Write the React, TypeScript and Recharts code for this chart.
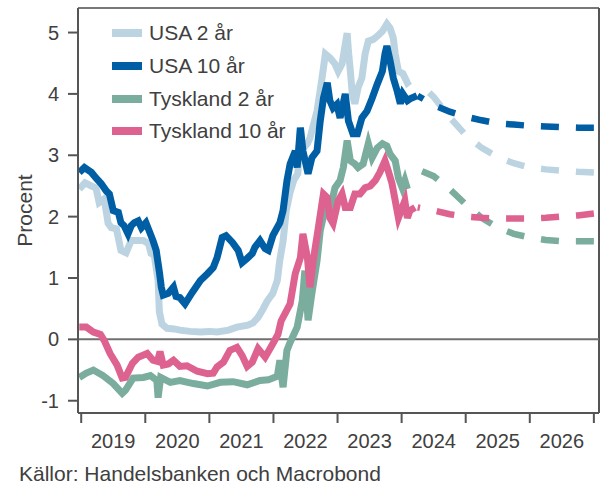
import React from 'react';
import { LineChart, Line, XAxis, YAxis, ReferenceLine } from 'recharts';

type Punkt = [number, number];

// Historik: [år som decimaltal, procent]
const usa2Hist: Punkt[] = [
  [2018.97, 2.45], [2019.06, 2.55], [2019.16, 2.5], [2019.23, 2.47], [2019.28, 2.23],
  [2019.36, 2.29], [2019.42, 1.89], [2019.47, 1.82], [2019.55, 1.8], [2019.62, 1.45],
  [2019.7, 1.41], [2019.78, 1.61], [2019.86, 1.61], [2019.97, 1.61], [2020.05, 1.56],
  [2020.09, 1.4], [2020.14, 1.37], [2020.2, 0.96], [2020.22, 0.45], [2020.26, 0.25],
  [2020.34, 0.18], [2020.45, 0.17], [2020.54, 0.15], [2020.7, 0.13], [2020.86, 0.12],
  [2021.0, 0.13], [2021.12, 0.12], [2021.3, 0.15], [2021.43, 0.2], [2021.6, 0.23],
  [2021.68, 0.27], [2021.76, 0.36], [2021.84, 0.5], [2021.9, 0.62], [2021.99, 0.75],
  [2022.06, 0.96], [2022.1, 1.3], [2022.15, 1.6], [2022.2, 2.1], [2022.26, 2.4],
  [2022.32, 2.6], [2022.38, 2.7], [2022.42, 3.45], [2022.45, 3.1], [2022.53, 3.19],
  [2022.57, 3.28], [2022.68, 3.72], [2022.75, 4.2], [2022.81, 4.65], [2022.88, 4.59],
  [2022.96, 4.49], [2023.01, 4.37], [2023.07, 4.49], [2023.15, 4.99], [2023.17, 4.7],
  [2023.2, 4.37], [2023.23, 4.0], [2023.27, 3.84], [2023.32, 4.1], [2023.38, 4.26],
  [2023.43, 4.65], [2023.48, 4.86], [2023.56, 4.89], [2023.62, 4.94], [2023.7, 5.02],
  [2023.77, 5.14], [2023.82, 5.07], [2023.87, 4.91], [2023.9, 4.65], [2023.95, 4.37],
  [2024.02, 4.33], [2024.09, 4.18], [2024.13, 4.21],
];

const usa10Hist: Punkt[] = [
  [2018.97, 2.72], [2019.05, 2.8], [2019.16, 2.72], [2019.23, 2.63], [2019.31, 2.54],
  [2019.39, 2.42], [2019.44, 2.37], [2019.5, 2.1], [2019.58, 2.07], [2019.62, 1.9],
  [2019.67, 1.85], [2019.73, 1.72], [2019.78, 1.85], [2019.83, 1.9], [2019.89, 1.93],
  [2019.94, 1.82], [2020.01, 1.9], [2020.06, 1.77], [2020.12, 1.61], [2020.17, 1.45],
  [2020.22, 1.1], [2020.25, 0.85], [2020.28, 0.72], [2020.36, 0.75], [2020.44, 0.85],
  [2020.48, 0.7], [2020.54, 0.68], [2020.62, 0.58], [2020.73, 0.76], [2020.86, 0.96],
  [2020.97, 1.07], [2021.06, 1.17], [2021.12, 1.33], [2021.2, 1.66], [2021.26, 1.69],
  [2021.36, 1.58], [2021.45, 1.45], [2021.51, 1.25], [2021.59, 1.32], [2021.67, 1.4],
  [2021.71, 1.5], [2021.79, 1.61], [2021.87, 1.48], [2021.92, 1.45], [2021.99, 1.69],
  [2022.1, 1.9], [2022.15, 2.1], [2022.21, 2.58], [2022.26, 2.86], [2022.34, 3.07],
  [2022.37, 2.8], [2022.42, 3.45], [2022.46, 3.07], [2022.54, 2.7], [2022.6, 2.96],
  [2022.68, 3.07], [2022.73, 3.56], [2022.78, 3.93], [2022.84, 4.18], [2022.88, 3.89],
  [2022.93, 3.77], [2022.99, 3.83], [2023.04, 3.61], [2023.12, 4.0], [2023.17, 3.56],
  [2023.24, 3.35], [2023.31, 3.35], [2023.38, 3.61], [2023.46, 3.72], [2023.54, 3.93],
  [2023.62, 4.16], [2023.7, 4.37], [2023.74, 4.65], [2023.77, 4.78], [2023.82, 4.54],
  [2023.87, 4.26], [2023.93, 4.05], [2023.98, 3.84], [2024.02, 4.0], [2024.09, 3.89],
  [2024.13, 3.92], [2024.24, 3.97],
];

const de2Hist: Punkt[] = [
  [2018.97, -0.62], [2019.08, -0.55], [2019.19, -0.5], [2019.34, -0.59], [2019.5, -0.72],
  [2019.64, -0.88], [2019.69, -0.83], [2019.81, -0.63], [2019.97, -0.62], [2020.08, -0.59],
  [2020.18, -0.67], [2020.2, -0.95], [2020.24, -0.62], [2020.39, -0.7], [2020.54, -0.67],
  [2020.75, -0.72], [2020.97, -0.76], [2021.17, -0.7], [2021.37, -0.69], [2021.59, -0.74],
  [2021.79, -0.67], [2021.92, -0.66], [2022.06, -0.6], [2022.1, -0.34], [2022.13, -0.62],
  [2022.15, -0.78], [2022.21, -0.18], [2022.26, -0.05], [2022.37, 0.2], [2022.45, 0.63],
  [2022.49, 1.12], [2022.54, 0.31], [2022.6, 0.75], [2022.68, 1.28], [2022.73, 1.77],
  [2022.81, 2.15], [2022.88, 2.1], [2022.96, 2.47], [2023.04, 2.59], [2023.09, 2.8],
  [2023.15, 3.24], [2023.2, 2.91], [2023.27, 2.86], [2023.32, 2.8], [2023.4, 2.86],
  [2023.48, 3.19], [2023.54, 2.96], [2023.62, 3.12], [2023.7, 3.19], [2023.77, 3.15],
  [2023.82, 3.02], [2023.9, 2.91], [2023.95, 2.63], [2024.01, 2.47], [2024.05, 2.59],
  [2024.09, 2.45],
];

const de10Hist: Punkt[] = [
  [2018.97, 0.2], [2019.08, 0.2], [2019.19, 0.12], [2019.3, 0.08], [2019.36, -0.02],
  [2019.45, -0.23], [2019.56, -0.42], [2019.64, -0.63], [2019.69, -0.62], [2019.8, -0.39],
  [2019.89, -0.29], [2020.03, -0.23], [2020.12, -0.34], [2020.19, -0.36], [2020.23, -0.2],
  [2020.28, -0.42], [2020.36, -0.4], [2020.44, -0.34], [2020.54, -0.44], [2020.65, -0.43],
  [2020.81, -0.52], [2020.97, -0.56], [2021.06, -0.55], [2021.12, -0.45], [2021.22, -0.37],
  [2021.32, -0.18], [2021.43, -0.13], [2021.51, -0.26], [2021.59, -0.44], [2021.67, -0.37],
  [2021.76, -0.15], [2021.87, -0.29], [2021.99, -0.07], [2022.07, 0.08], [2022.12, 0.3],
  [2022.26, 0.58], [2022.34, 1.07], [2022.42, 1.33], [2022.46, 1.72], [2022.53, 1.33],
  [2022.57, 0.85], [2022.62, 1.28], [2022.7, 1.82], [2022.78, 2.37], [2022.84, 2.31],
  [2022.88, 1.98], [2022.93, 1.89], [2023.01, 2.26], [2023.07, 2.37], [2023.12, 2.15],
  [2023.2, 2.15], [2023.27, 2.37], [2023.35, 2.37], [2023.43, 2.47], [2023.51, 2.5],
  [2023.59, 2.59], [2023.66, 2.72], [2023.74, 2.91], [2023.79, 2.75], [2023.85, 2.54],
  [2023.9, 2.26], [2023.95, 1.98], [2024.01, 2.15], [2024.05, 2.26], [2024.09, 1.98],
  [2024.13, 2.1], [2024.21, 2.15],
];

// Prognos per kvartalsslut
const prognosKvartal = [2024.25, 2024.5, 2024.75, 2025.0, 2025.25, 2025.5, 2025.75, 2026.0, 2026.25, 2026.5, 2026.75, 2027.0];
const usa2Prognos = [4.2, 3.95, 3.62, 3.33, 3.12, 2.97, 2.87, 2.8, 2.77, 2.75, 2.73, 2.72];
const usa10Prognos = [3.97, 3.82, 3.71, 3.63, 3.57, 3.52, 3.5, 3.48, 3.47, 3.46, 3.45, 3.45];
const de2Prognos = [2.77, 2.66, 2.45, 2.2, 1.98, 1.82, 1.72, 1.66, 1.62, 1.6, 1.6, 1.6];
const de10Prognos = [2.15, 2.1, 2.04, 2.0, 1.98, 1.97, 1.97, 1.97, 1.98, 2.0, 2.02, 2.05];

const arTicks = [2019, 2020, 2021, 2022, 2023, 2024, 2025, 2026, 2027];
const procentTicks = [-1, 0, 1, 2, 3, 4, 5];

const X_MIN = 2018.95;
const X_MAX = 2027.08;
const Y_MIN = -1.2;
const Y_MAX = 5.4;

const TEXT = '#404040';
const AXEL = '#555555';
const FONT = '"Liberation Sans", Arial, sans-serif';

const serier = [
  { namn: 'USA 2 år', farg: '#bcd4e1', hist: usa2Hist, prognos: usa2Prognos },
  { namn: 'USA 10 år', farg: '#005ea5', hist: usa10Hist, prognos: usa10Prognos },
  { namn: 'Tyskland 2 år', farg: '#7bad9e', hist: de2Hist, prognos: de2Prognos },
  { namn: 'Tyskland 10 år', farg: '#de628f', hist: de10Hist, prognos: de10Prognos },
];

const toPoints = (rows: Punkt[]) => rows.map(([t, v]) => ({ t, v }));
// prognosen ritas bakifrån så att strecken börjar i högerkanten
const prognosPoints = (values: number[]) =>
  prognosKvartal.map((t, i) => ({ t, v: values[i] })).reverse();

const CHART_W = 600;
const CHART_H = 486;
const PLOT_LEFT = 78;
const PLOT_RIGHT = 1;
const HALF_YEAR = (CHART_W - PLOT_LEFT - PLOT_RIGHT) / (X_MAX - X_MIN) / 2;

const ArTick = (props: any) => {
  const { x, y, payload } = props;
  if (payload.value >= 2027) return null;
  return (
    <text x={x + HALF_YEAR} y={y} dy={23} textAnchor="middle" fill={TEXT} fontSize={20} fontFamily={FONT}>
      {payload.value}
    </text>
  );
};

const Forklaring = () => (
  <div style={{ position: 'absolute', left: 112, top: 17, fontFamily: FONT }}>
    {serier.map((s) => (
      <div key={s.namn} style={{ height: 32.7, display: 'flex', alignItems: 'center' }}>
        <span style={{ display: 'inline-block', width: 30, height: 8, background: s.farg, marginRight: 7 }} />
        <span style={{ fontSize: 21, lineHeight: '20px', color: TEXT }}>{s.namn}</span>
      </div>
    ))}
  </div>
);

export default function App() {
  return (
    <div style={{ position: 'absolute', left: 0, top: 0, width: CHART_W, height: CHART_H, background: '#fff' }}>
      <LineChart
        width={CHART_W}
        height={CHART_H}
        margin={{ top: 8, right: PLOT_RIGHT, left: 0, bottom: 0 }}
      >
        <XAxis
          dataKey="t"
          type="number"
          domain={[X_MIN, X_MAX]}
          ticks={arTicks}
          interval={0}
          height={73}
          tickSize={10}
          tick={<ArTick />}
          axisLine={{ stroke: AXEL, strokeWidth: 2 }}
          tickLine={{ stroke: AXEL, strokeWidth: 2 }}
        />
        <YAxis
          type="number"
          domain={[Y_MIN, Y_MAX]}
          ticks={procentTicks}
          interval={0}
          width={PLOT_LEFT}
          tickSize={10}
          tickMargin={9}
          tick={{ fill: TEXT, fontSize: 20, fontFamily: FONT }}
          axisLine={{ stroke: AXEL, strokeWidth: 2 }}
          tickLine={{ stroke: AXEL, strokeWidth: 2 }}
          label={{
            value: 'Procent',
            angle: -90,
            position: 'insideLeft',
            offset: 25,
            style: { textAnchor: 'middle', fill: TEXT, fontSize: 21, fontFamily: FONT },
          }}
        />
        <ReferenceLine y={Y_MAX} stroke="#777" strokeWidth={2} ifOverflow="visible" />
        <ReferenceLine x={X_MAX} stroke={AXEL} strokeWidth={2} ifOverflow="visible" />
        <ReferenceLine y={0} stroke="#707070" strokeWidth={2} />
        {serier.map((s) => (
          <Line
            key={s.namn}
            data={toPoints(s.hist)}
            dataKey="v"
            stroke={s.farg}
            strokeWidth={7}
            dot={false}
            activeDot={false}
            isAnimationActive={false}
          />
        ))}
        {serier.map((s) => (
          <Line
            key={s.namn + '-prognos'}
            data={prognosPoints(s.prognos)}
            dataKey="v"
            stroke={s.farg}
            strokeWidth={6.5}
            strokeDasharray="18 17"
            dot={false}
            activeDot={false}
            isAnimationActive={false}
          />
        ))}
      </LineChart>
      <Forklaring />
      <div
        style={{
          position: 'absolute',
          left: 19,
          top: 464,
          fontFamily: FONT,
          fontSize: 21,
          lineHeight: '20px',
          color: TEXT,
          whiteSpace: 'nowrap',
        }}
      >
        Källor: Handelsbanken och Macrobond
      </div>
    </div>
  );
}
